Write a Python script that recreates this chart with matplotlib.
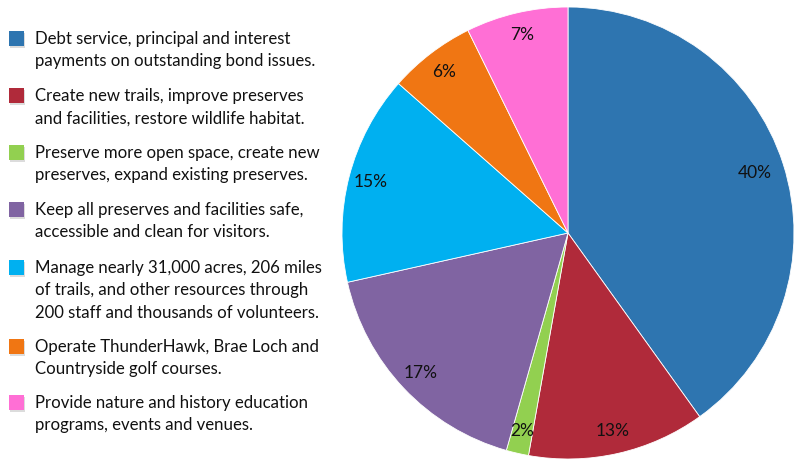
import matplotlib
matplotlib.use("Agg")
import matplotlib.pyplot as plt
from matplotlib.patches import Rectangle

plt.rcParams['font.family'] = ['Lato', 'DejaVu Sans']

categories = [
    "Debt service, principal and interest\npayments on outstanding bond issues.",
    "Create new trails, improve preserves\nand facilities, restore wildlife habitat.",
    "Preserve more open space, create new\npreserves, expand existing preserves.",
    "Keep all preserves and facilities safe,\naccessible and clean for visitors.",
    "Manage nearly 31,000 acres, 206 miles\nof trails, and other resources through\n200 staff and thousands of volunteers.",
    "Operate ThunderHawk, Brae Loch and\nCountryside golf courses.",
    "Provide nature and history education\nprograms, events and venues.",
]
values = [40.1, 12.7, 1.6, 17.1, 15.0, 6.2, 7.3]
colors = ["#2E75B0", "#B02A3A", "#92D050", "#8064A2", "#00B0F0", "#F07613", "#FF6FD5"]

W, H = 800, 465
fig = plt.figure(figsize=(W / 100, H / 100), dpi=100)
fig.patch.set_facecolor("white")

# pie
cx, cy, r = 568, 233, 226
ax = fig.add_axes([(cx - r) / W, (H - cy - r) / H, 2 * r / W, 2 * r / H])
wedges, texts, autotexts = ax.pie(
    values, colors=colors, startangle=90, counterclock=False,
    autopct=lambda p: f"{p:.0f}%", pctdistance=0.9,
    wedgeprops=dict(edgecolor="white", linewidth=0.6),
    textprops=dict(fontsize=12.5, color="#111111"))
autotexts[0].set_position([c * 0.87 / 0.9 for c in autotexts[0].get_position()])
ax.set_xlim(-1, 1)
ax.set_ylim(-1, 1)
ax.set_aspect("equal")
ax.axis("off")

# legend
lax = fig.add_axes([0, 0, 1, 1])
lax.set_xlim(0, W)
lax.set_ylim(H, 0)
lax.axis("off")
first_line_y = [39, 96, 153, 210, 268, 347, 403]
line_h = 22.3
for name, col, y0 in zip(categories, colors, first_line_y):
    lax.add_patch(Rectangle((10, y0 - 6), 15, 15, facecolor="#bbbbbb", edgecolor="none", alpha=0.5))
    lax.add_patch(Rectangle((9, y0 - 8), 15, 15, facecolor=col, edgecolor="none"))
    for i, line in enumerate(name.split("\n")):
        lax.text(35, y0 + i * line_h, line, fontsize=12.1, color="#111111",
                 va="center", ha="left")

fig.savefig("out.png", dpi=100)
